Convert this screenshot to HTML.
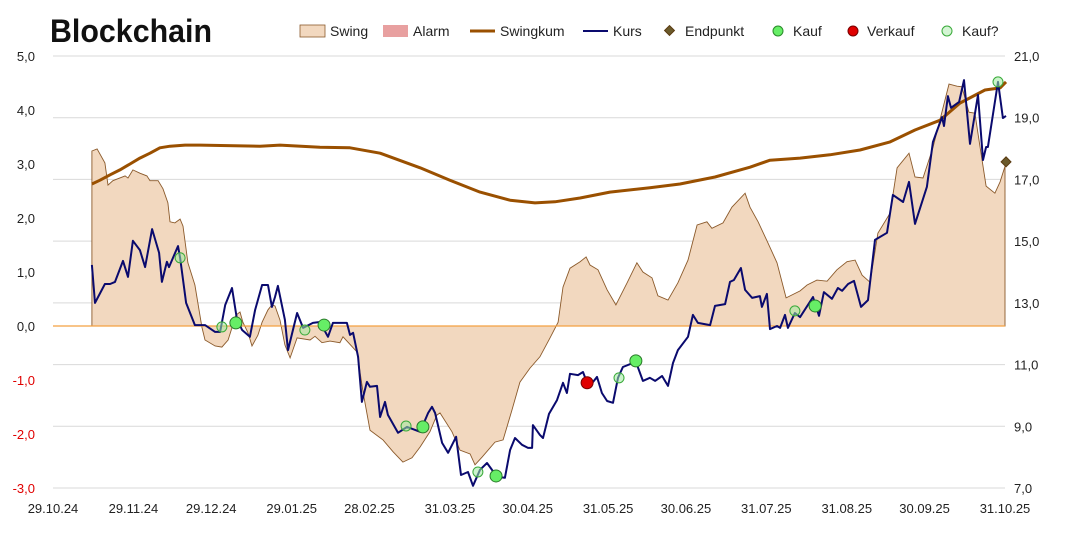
<!DOCTYPE html>
<html><head><meta charset="utf-8"><style>
html,body{margin:0;padding:0;background:#fff;}
svg{display:block;font-family:"Liberation Sans",sans-serif;}
</style></head><body>
<svg id="chart" width="1067" height="555" viewBox="0 0 1067 555">
<text x="50" y="42" font-size="32" font-weight="bold" fill="#111" textLength="162" lengthAdjust="spacingAndGlyphs">Blockchain</text>
<g id="grid"></g>
<g id="plot"></g>
<g id="axes"></g>
<g id="legend" font-size="14" fill="#222">
  <rect x="300" y="25" width="25" height="12" fill="#f2d8bf" stroke="#8b5a2b" stroke-width="0.8"/>
  <text x="330" y="36">Swing</text>
  <rect x="383" y="25" width="25" height="12" fill="#e8a0a0"/>
  <text x="413" y="36">Alarm</text>
  <line x1="470" y1="31" x2="495" y2="31" stroke="#9a5000" stroke-width="3"/>
  <text x="500" y="36">Swingkum</text>
  <line x1="583" y1="31" x2="608" y2="31" stroke="#0a0a6e" stroke-width="2"/>
  <text x="613" y="36">Kurs</text>
  <rect x="666" y="27" width="7" height="7" transform="rotate(45 669.5 30.5)" fill="#6b5a2b" stroke="#5a3a10"/>
  <text x="685" y="36">Endpunkt</text>
  <circle cx="778" cy="31" r="5" fill="#66ee66" stroke="#2a8a2a"/>
  <text x="793" y="36">Kauf</text>
  <circle cx="853" cy="31" r="5" fill="#e00000" stroke="#700"/>
  <text x="867" y="36">Verkauf</text>
  <circle cx="947" cy="31" r="5" fill="#d4f5d4" stroke="#3aaa3a"/>
  <text x="962" y="36">Kauf?</text>
</g>
</svg>
<script>
const xTickDays=[0,31,61,92,122,153,183,214,244,275,306,336,367];
const xTickLabels=["29.10.24","29.11.24","29.12.24","29.01.25","28.02.25","31.03.25","30.04.25","31.05.25","30.06.25","31.07.25","31.08.25","30.09.25","31.10.25"];
const leftTicks=[5,4,3,2,1,0,-1,-2,-3];
const rightTicks=[21,19,17,15,13,11,9,7];
const kursDays=[15.0,16.2,20.0,22.0,23.9,27.0,28.9,30.8,33.5,35.5,38.2,40.9,42.0,43.9,44.7,48.2,49.0,51.3,54.7,58.6,62.5,64.4,66.4,69.0,70.9,72.9,75.9,77.9,80.6,82.9,84.4,85.6,86.7,89.4,90.6,94.1,96.4,100.2,102.9,106.0,107.9,113.3,114.5,115.7,117.6,119.1,121.0,122.2,124.9,126.1,128.0,129.1,133.0,136.5,141.5,144.6,146.1,147.3,150.0,152.3,155.4,157.3,160.0,161.9,164.6,167.3,171.2,174.2,176.2,178.1,180.8,183.1,184.7,185.0,187.7,188.9,191.2,194.3,196.6,198.1,199.3,202.4,204.3,205.9,208.2,209.7,211.6,213.6,215.9,217.8,219.7,224.7,227.4,230.1,232.1,234.8,237.1,239.0,240.9,244.8,246.7,248.6,253.3,255.2,259.1,261.0,262.5,265.2,266.8,269.5,272.5,273.3,275.2,276.4,279.1,280.3,282.2,283.3,286.0,288.0,293.0,295.3,297.2,300.3,302.6,304.2,306.5,308.8,311.5,314.2,316.9,321.5,323.8,327.7,330.0,332.3,336.9,339.2,342.7,343.5,345.0,346.2,349.3,351.2,353.5,356.6,358.5,359.7,360.4,364.3,366.2,367.4];
const kursValues=[14.23,13.00,13.61,13.61,13.68,14.36,13.84,15.01,14.71,14.16,15.39,14.62,13.68,14.33,14.16,14.84,14.46,13.00,12.28,12.28,12.06,12.06,12.93,13.48,12.48,12.12,11.90,12.77,13.58,13.58,12.87,13.19,13.55,12.45,11.47,12.67,12.19,12.35,12.38,11.90,12.35,12.35,11.96,12.03,11.25,9.79,10.44,10.28,10.31,9.30,9.79,9.37,8.79,8.98,8.82,9.43,9.63,9.43,8.46,8.14,8.66,7.42,7.52,7.07,7.59,7.81,7.36,7.33,8.23,8.62,8.40,8.30,8.30,9.04,8.72,8.62,9.40,9.85,10.41,10.08,10.70,10.66,10.76,10.41,10.44,10.60,10.08,9.82,9.76,10.57,10.92,11.09,10.47,10.57,10.47,10.63,10.31,11.05,11.47,11.90,12.61,12.35,12.28,12.90,12.96,13.68,13.74,14.13,13.42,13.16,13.22,12.87,13.29,12.15,12.25,12.19,12.61,12.19,12.67,12.54,13.19,12.58,13.35,13.13,13.48,13.39,13.61,13.71,12.87,13.09,15.04,15.27,16.50,16.27,16.92,15.56,16.76,18.21,19.02,18.73,19.70,19.32,19.51,20.22,18.15,19.74,17.63,18.05,18.05,20.16,18.99,19.06];
const swingDays=[15.0,17.0,20.0,21.2,23.1,27.8,28.9,30.8,33.5,36.2,37.4,40.5,42.4,44.3,45.1,47.0,49.0,50.1,52.0,54.7,57.4,58.6,62.5,65.1,67.5,70.5,72.1,73.2,75.2,76.7,79.0,80.6,82.9,84.4,85.6,87.5,89.4,91.4,94.1,99.1,101.0,103.7,106.8,110.6,111.8,117.2,119.5,122.2,127.2,131.1,134.9,138.4,141.5,145.3,148.0,149.2,153.8,156.9,160.8,162.7,165.4,170.4,173.5,176.9,180.0,183.9,187.7,191.6,194.7,196.6,199.3,203.2,205.5,207.0,210.1,213.6,217.0,221.3,225.1,227.4,230.9,233.2,237.1,240.9,244.8,248.3,252.1,254.0,258.3,261.7,266.8,268.7,271.8,275.6,279.1,282.6,288.0,290.7,294.5,298.4,302.2,306.1,309.2,311.9,315.0,318.0,322.7,325.4,330.0,332.3,335.4,339.2,345.4,348.5,350.4,353.1,355.4,357.4,359.7,363.1,365.1,367.0];
const swingValues=[3.24,3.28,3.02,2.61,2.69,2.78,2.74,2.89,2.83,2.78,2.69,2.69,2.54,2.28,1.93,1.91,1.98,1.85,1.17,0.76,-0.02,-0.26,-0.37,-0.39,-0.26,0.20,0.26,0.07,-0.13,-0.37,-0.17,0.07,0.30,0.39,0.37,0.11,-0.35,-0.59,-0.22,-0.26,-0.19,-0.31,-0.28,-0.31,-0.20,-0.48,-1.22,-1.93,-2.11,-2.33,-2.52,-2.44,-2.24,-1.96,-1.65,-1.61,-1.96,-2.30,-2.37,-2.57,-2.43,-2.15,-2.11,-1.56,-1.04,-0.78,-0.57,-0.22,0.07,0.72,1.07,1.19,1.28,1.13,1.04,0.67,0.39,0.80,1.17,1.00,0.89,0.56,0.48,0.80,1.22,1.87,1.93,1.81,1.91,2.20,2.46,2.20,1.93,1.54,1.17,0.52,0.65,0.76,0.85,0.83,1.04,1.19,1.22,0.94,0.81,1.72,2.09,2.93,3.20,2.76,2.74,3.30,4.48,4.44,4.43,3.96,3.94,3.31,2.59,2.46,2.67,2.96];
const kumDays=[15.0,18.1,22.0,25.8,29.7,33.5,37.4,41.2,45.1,50.9,56.7,79.8,87.5,102.9,114.5,126.1,141.5,153.0,164.6,176.2,185.8,193.5,203.2,214.7,230.1,241.7,255.2,268.7,276.4,288.0,299.5,311.1,322.7,332.3,341.9,349.7,359.3,365.1,367.4];
const kumValues=[2.63,2.70,2.80,2.89,3.00,3.11,3.20,3.30,3.33,3.35,3.35,3.33,3.35,3.31,3.30,3.20,2.93,2.70,2.48,2.33,2.28,2.30,2.37,2.48,2.56,2.63,2.76,2.94,3.07,3.11,3.17,3.26,3.41,3.63,3.81,4.13,4.37,4.41,4.52];
const kaufFragDays=[49.0,65.1,97.1,136.1,163.8,218.2,286.0,364.3];
const kaufFragValues=[14.46,12.22,12.12,9.01,7.52,10.57,12.74,20.16];
const kaufDays=[70.5,104.5,142.6,170.8,224.7,293.8];
const kaufValues=[12.35,12.28,8.98,7.39,11.12,12.90];
const verkaufDays=[205.9];
const verkaufValues=[10.41];
const endDays=[367.4];
const endValues=[3.04];

const NS="http://www.w3.org/2000/svg";
const X0=53,X1=1005,D0=0,D1=367;
const xS=d=>X0+(d-D0)/(D1-D0)*(X1-X0);
const yL=v=>326-v*54;
const yR=v=>56+(21-v)*(432/14);
function mk(tag,attrs,parent){const e=document.createElementNS(NS,tag);for(const k in attrs)e.setAttribute(k,attrs[k]);parent.appendChild(e);return e;}
const grid=document.getElementById('grid'),plot=document.getElementById('plot'),axes=document.getElementById('axes');
rightTicks.forEach(v=>{
  const l=mk('line',{x1:X0,x2:X1,y1:yR(v),y2:yR(v),stroke:'#d9d9d9','stroke-width':1},grid);
  
  
  const t=mk('text',{x:1014,y:yR(v)+5,'font-size':13,fill:'#222'},axes);
  t.textContent=v.toFixed(1).replace('.',',');
  
  
});
leftTicks.forEach(v=>{
  const t=mk('text',{x:35,y:yL(v)+5,'font-size':13,'text-anchor':'end',fill:v<0?'#e00000':'#222'},axes);
  t.textContent=v.toFixed(1).replace('.',',');
  
  
});
xTickDays.forEach((d,i)=>{
  const t=mk('text',{x:xS(d),y:513,'font-size':13,'text-anchor':'middle',fill:'#222'},axes);
  t.textContent=xTickLabels[i];
  
  
});
let p='M'+xS(swingDays[0])+','+yL(0);
swingDays.forEach((d,i)=>{p+=' L'+xS(d).toFixed(1)+','+yL(swingValues[i]).toFixed(1);});
p+=' L'+xS(swingDays[swingDays.length-1])+','+yL(0)+' Z';
const area=mk('path',{d:p,fill:'#f2d8bf',stroke:'#8b5a2b','stroke-width':0.9},plot);


const zl=mk('line',{x1:X0,x2:X1,y1:yL(0),y2:yL(0),stroke:'#f4a040','stroke-width':1.3},plot);


function line(ds,vs,ys,col,w,name){
  const pts=ds.map((d,i)=>xS(d).toFixed(1)+','+ys(vs[i]).toFixed(1)).join(' ');
  const e=mk('polyline',{points:pts,fill:'none',stroke:col,'stroke-width':w,'stroke-linejoin':'round'},plot);
  
  
}
line(kumDays,kumValues,yL,'#9a5000',3,'swingkum-line');
line(kursDays,kursValues,yR,'#0a0a6e',2,'kurs-line');
kaufFragDays.forEach((d,i)=>{
  const c=mk('circle',{cx:xS(d),cy:yR(kaufFragValues[i]),r:5,fill:'rgba(160,235,160,0.55)',stroke:'#3aaa3a','stroke-width':1},plot);
  
  
});
kaufDays.forEach((d,i)=>{
  const c=mk('circle',{cx:xS(d),cy:yR(kaufValues[i]),r:6,fill:'#66ee66',stroke:'#2a7a2a','stroke-width':1},plot);
  
  
});
verkaufDays.forEach((d,i)=>{
  const c=mk('circle',{cx:xS(d),cy:yR(verkaufValues[i]),r:6,fill:'#e00000',stroke:'#700','stroke-width':1},plot);
  
  
});
endDays.forEach((d,i)=>{
  const x=xS(d),y=yL(endValues[i]);
  const r=mk('rect',{x:x-3.5,y:y-3.5,width:7,height:7,transform:'rotate(45 '+x+' '+y+')',fill:'#6b5a2b',stroke:'#5a3a10'},plot);
  
  
});
</script>
</body></html>
